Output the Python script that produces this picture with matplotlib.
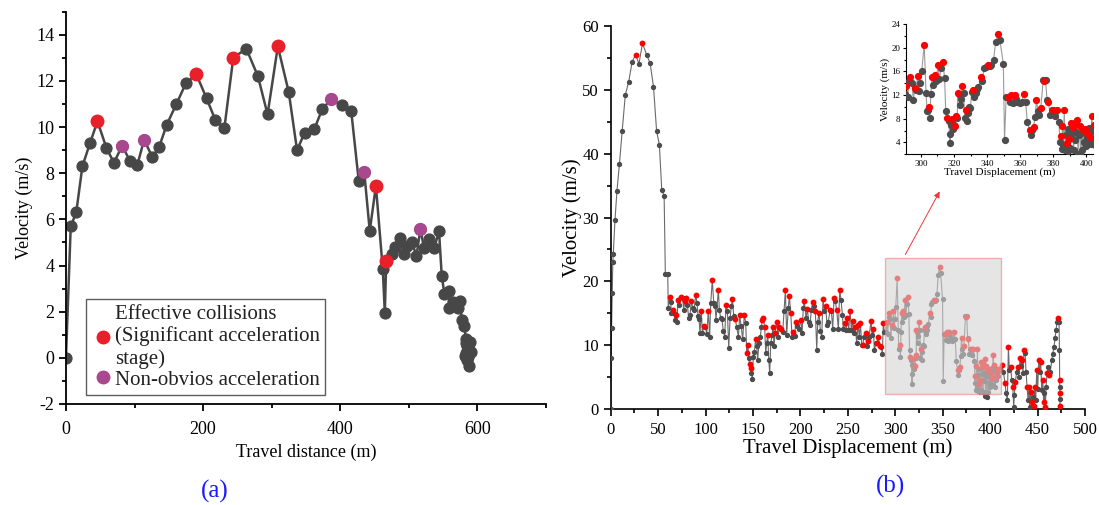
import numpy as np
import matplotlib
matplotlib.use("Agg")
import matplotlib.pyplot as plt
from matplotlib.patches import Rectangle
from matplotlib.lines import Line2D
from matplotlib.ticker import MultipleLocator

plt.rcParams['font.family'] = ['Liberation Serif', 'DejaVu Serif']
plt.rcParams['axes.unicode_minus'] = False

# ---- panel (a): travel distance vs velocity ----
dist_a = [0, 7, 15, 24, 35, 46, 59, 70, 82, 93, 104, 114, 126, 136, 147, 161, 175, 190,
          205, 218, 231, 244, 263, 280, 294, 309, 325, 337, 348, 362, 374, 387, 402, 416,
          427, 435, 443, 452, 462, 465, 467, 475, 480, 487, 493, 497, 505, 511, 517, 522,
          530, 537, 544, 548, 552, 558, 559, 565, 572, 575, 577, 581,
          583, 585, 584, 587, 586, 582, 588, 585, 589, 587, 588, 586, 590, 584]
vel_a = [0, 5.7, 6.3, 8.3, 9.3, 10.25, 9.1, 8.45, 9.2, 8.55, 8.35, 9.45, 8.7, 9.15, 10.1, 11.0, 11.9, 12.3,
         11.25, 10.3, 9.95, 13.0, 13.4, 12.2, 10.55, 13.5, 11.5, 9.0, 9.75, 9.9, 10.8, 11.2, 10.95, 10.7,
         7.65, 8.05, 5.5, 7.45, 3.85, 1.95, 4.2, 4.5, 4.8, 5.2, 4.5, 4.85, 5.0, 4.4, 5.6, 4.75,
         5.15, 4.75, 5.5, 3.55, 2.75, 2.9, 2.15, 2.4, 2.15, 2.45, 1.65, 1.4,
         0.8, 0.5, 0.2, 0.6, 0.3, 0.1, 0.35, -0.1, 0.7, 0.05, -0.35, 0.45, 0.25, 0.65]
effective_at = [46, 190, 244, 309, 452, 467]
nonobvious_at = [82, 114, 387, 435, 517]

# ---- panel (b): travel displacement vs velocity ----
dist_b = [
    0, 0.3, 0.9, 1.5, 2.2, 2.7, 4.5, 6.6, 9.2, 12.1, 15.4, 19.0, 22.6, 26.2, 29.8, 33.5, 37.8,
    41.5, 45.1, 48.4, 51.3, 53.8, 56.3, 57.6, 60.1,
    60.7, 62.2, 63.2, 63.9, 65.7, 66.7, 67.8, 68.8, 69.9, 70.9, 72.3, 74.4, 75.9, 76.9, 78.0, 79.4,
    80.8, 82.2, 83.6, 85.0, 86.4, 87.8, 89.6, 91.0, 92.0, 93.1, 94.1, 95.5, 96.6, 98.4, 99.8,
    101.2, 102.9, 104.3, 105.4, 107.1, 108.6, 110.0, 111.0, 113.5, 114.5, 116.0, 117.3, 118.7,
    120.2, 121.5, 123.0, 124.4, 125.8, 127.2, 128.3, 129.7, 131.4, 132.8, 134.6, 136.0, 137.4,
    139.1, 140.9, 142.3, 143.4, 144.7, 145.4, 146.5, 147.6, 148.2, 149.3, 150.3, 151.4, 152.8,
    153.9, 154.9, 156.3, 157.7, 158.8, 159.8, 160.9, 162.3, 163.4, 164.4, 165.5, 166.6, 167.6,
    168.7, 170.1, 171.1, 172.2, 173.2, 175.0, 176.4, 177.7, 179.9, 181.3, 182.7, 184.1, 185.5,
    187.2, 188.3, 189.8, 191.1, 192.5, 194.0, 195.0, 196.7, 198.5, 200.3, 201.7, 203.0, 204.1,
    205.9, 207.3, 208.7, 210.1, 211.5, 212.9, 214.3, 215.7, 217.2, 218.2, 219.6, 221.0, 222.4,
    223.8, 225.2, 226.6, 228.0, 229.4, 231.2, 232.6, 234.0, 235.4, 236.8, 238.2, 240.0, 241.4,
    242.8, 244.2, 245.2, 247.0, 248.4, 249.4, 250.9, 252.3, 253.7, 255.1, 256.5, 257.9, 259.3,
    260.7, 262.1, 263.2, 264.6, 265.7, 267.0, 268.8, 269.9, 270.9, 272.3, 274.4, 275.5, 276.9,
    277.9, 279.7, 280.7, 282.1, 283.5, 285.3, 286.3, 287.4, 288.4,
    290.1, 291.2, 292.0, 292.9, 293.7, 294.6, 295.4, 296.3, 297.1, 298.0, 298.8, 299.7, 300.5,
    302.0, 303.1, 303.7, 304.3, 305.0, 305.4, 306.0, 306.7, 307.5, 308.4, 309.2, 310.3, 311.1,
    312.2, 313.3, 314.3, 315.0, 316.0, 316.7, 317.3, 317.6, 317.9, 318.8, 319.4, 320.1, 320.7,
    321.3, 322.0, 322.2, 322.8, 323.5, 324.1, 325.0, 325.8, 326.5, 327.3, 327.9, 328.6, 329.2,
    329.9, 330.7, 331.6, 332.2, 333.0, 333.9, 334.7, 336.2, 337.1, 338.1, 339.2, 340.5, 341.5,
    342.6, 343.9, 345.2, 346.6, 347.7, 349.8, 350.5, 351.5, 352.8, 353.7, 354.5, 355.4, 356.6,
    357.5, 358.3, 359.6, 360.9, 362.2, 363.2, 364.3, 365.6, 366.4, 367.3, 368.1, 369.0, 369.8,
    370.7, 371.3, 372.4, 373.9, 374.5, 375.3, 376.2, 377.0, 378.1, 379.2, 380.0, 380.9, 382.4,
    383.4, 384.0, 384.5, 385.0, 385.5, 386.0, 386.6, 387.1, 387.6, 388.1, 388.6, 389.1, 389.6,
    390.2, 390.7, 391.2, 391.7, 392.3, 392.8, 393.3, 393.8, 394.3, 394.9, 395.4, 395.9, 396.4,
    397.0, 397.5, 398.0, 398.5, 399.0, 399.6, 400.1, 400.6, 401.1, 401.7, 402.2, 402.7, 403.2,
    403.8, 404.3, 404.8, 405.4, 405.9, 406.4, 407.0, 407.5, 408.0, 408.6, 409.2,
    412.2, 413.9, 415.7, 416.7, 418.1, 419.2, 420.2, 421.7, 422.7, 423.8, 424.8, 425.5, 426.6,
    428.0, 429.1, 430.1, 431.5, 432.5, 433.6, 434.6, 435.7, 436.8, 437.8, 438.9, 439.9, 441.0,
    441.7, 442.8, 443.8, 444.9, 445.9, 447.0, 448.0, 449.1, 450.1, 451.2, 452.2, 453.3, 454.3,
    455.4, 456.4, 457.1, 458.2, 458.9, 460.0, 461.0, 462.4, 463.4, 464.9, 465.9, 467.3, 468.4,
    469.4, 470.5, 471.9, 472.6, 473.0, 473.2, 473.3, 473.4, 473.5, 473.6]
vel_b = [
    0, 8.0, 12.7, 18.2, 23.0, 24.3, 29.6, 34.2, 38.4, 43.6, 49.2, 51.3, 54.4, 55.5, 54.1, 57.3, 55.5,
    54.2, 50.5, 43.5, 41.4, 34.3, 33.4, 21.1, 21.1,
    15.8, 17.6, 16.75, 15.1, 15.5, 15.0, 14.0, 14.75, 13.7, 17.1, 16.3, 17.6, 17.4, 15.5, 16.95, 17.4,
    16.3, 14.2, 14.75, 16.95, 15.8, 15.5, 17.85, 16.6, 14.6, 14.1, 11.9, 15.4, 11.9, 13.0, 12.8,
    11.8, 15.3, 11.25, 16.6, 20.25, 16.6, 16.2, 14.0, 18.7, 15.5, 14.2, 14.1, 12.15,
    11.35, 16.3, 15.3, 9.5, 14.2, 16.1, 17.2, 14.5, 14.1, 12.8, 11.35, 14.7, 13.0,
    11.0, 14.8, 13.45, 8.75, 10.0, 7.96, 7.06, 6.39, 5.7, 4.66, 8.2, 9.0, 11.0,
    9.8, 7.7, 10.3, 11.35, 12.8, 13.9, 14.2, 12.8, 8.75, 10.3, 11.6, 7.7, 5.6,
    10.3, 11.6, 12.8, 9.8, 11.85, 13.7, 11.35, 12.8, 12.6, 12.0, 15.3, 18.6, 11.6,
    15.8, 17.7, 15.0, 11.35, 12.0, 11.5, 13.65, 13.0, 12.6, 14.0, 11.85, 15.8, 16.85,
    14.2, 15.65, 13.7, 13.2, 15.5, 16.8, 16.1, 15.3, 9.26, 13.7, 15.1, 12.2, 11.35,
    17.2, 15.3, 16.1, 13.2, 13.7, 15.5, 15.3, 12.5, 17.4, 16.85, 15.5, 12.6, 18.6,
    17.1, 14.75, 12.5, 13.5, 12.45, 14.2, 12.45, 15.4, 12.35, 13.8, 11.9, 12.9, 10.3,
    13.2, 11.35, 13.5, 10.0, 10.0, 11.35, 11.85, 9.8, 10.6, 11.35, 13.8, 11.6, 12.6,
    9.3, 10.3, 10.3, 11.25, 9.9, 9.7, 8.6, 13.5, 12.0,
    12.1, 13.6, 11.7, 14.4, 15.0, 14.1, 11.15, 13.2, 12.85, 15.3, 12.7, 14.1, 16.05,
    20.5, 12.4, 9.35, 9.45, 10.0, 8.2, 12.1, 15.1, 13.7, 15.4, 14.35, 17.05, 14.75,
    16.5, 17.6, 14.9, 9.3, 8.2, 7.7, 5.5, 3.9, 6.9, 7.9, 6.2, 6.9, 6.8,
    8.45, 8.05, 12.3, 12.1, 10.3, 11.4, 13.6, 12.3, 8.05, 9.45, 7.65, 8.9, 10.0,
    9.85, 12.45, 12.85, 11.7, 12.3, 13.0, 13.3, 15.0, 14.4, 16.5, 16.8, 17.05, 16.9,
    17.0, 18.0, 21.0, 22.25, 21.3, 17.25, 4.4, 11.7, 11.7, 10.8, 12.0, 10.7, 12.0,
    11.4, 10.9, 10.7, 10.8, 12.1, 10.9, 7.5, 6.1, 5.25, 6.1, 6.65, 8.35, 11.15,
    9.35, 8.6, 9.85, 14.5, 14.45, 14.5, 11.15, 10.9, 8.6, 9.45, 9.45, 8.45, 9.45,
    7.5, 4.0, 5.1, 2.9, 6.7, 3.5, 9.4, 2.8, 5.3, 3.9, 6.2, 2.6, 4.6,
    3.0, 7.3, 5.5, 6.6, 2.7, 7.2, 4.4, 5.7, 7.8, 2.0, 5.2, 6.7, 1.9,
    5.6, 2.7, 6.1, 4.0, 6.3, 3.4, 5.0, 5.6, 3.9, 6.4, 4.9, 3.8, 8.4,
    5.9, 6.9, 4.6, 3.5, 5.0, 4.6, 6.2, 5.3, 6.0, 5.1, 6.2,
    6.9, 5.86, 4.03, 2.46, 1.41, 9.68, 6.12, 6.54, 4.55, 3.5, 0.36, 2.2, 4.3,
    5.86, 6.64, 5.07, 7.95, 6.8, 7.7, 5.7, 9.26, 8.74, 5.86, 3.5, 1.41, 3.5,
    0.36, 2.7, 1.1, 1.9, 0.4, 3.5, 1.4, 6.1, 3.2, 7.7, 5.86, 7.4, 3.0,
    4.55, 1.1, 2.46, 0.36, 3.5, 5.6, 6.64, 5.3, 5.86, 7.7, 8.6, 9.75, 11.05,
    12.35, 13.65, 14.3, 13.7, 9.3, 4.5, 3.5, 2.5, 1.5, 0.4]
# displacements of the points marked red (acceleration peaks)
red_at_b = [
    26.2, 33.5, 62.2, 65.7, 68.8, 70.9, 74.4, 78.0, 79.4, 85.0, 89.6, 95.5, 98.4, 102.9, 107.1,
    113.5, 121.5, 128.3, 131.4, 136.0, 140.9, 143.4, 144.7, 146.5, 147.6, 152.8, 159.8, 160.9,
    162.3, 165.5, 171.1, 173.2, 175.0, 177.7, 179.9, 184.1, 188.3, 189.8, 192.5, 195.0, 200.3,
    204.1, 207.3, 212.9, 215.7, 219.6, 223.8, 226.6, 231.2, 235.4, 238.2, 241.4, 247.0, 249.4,
    252.3, 255.1, 257.9, 260.7, 263.2, 265.7, 268.8, 270.9, 274.4, 276.9, 280.7, 282.1, 283.5,
    287.4, 291.2, 293.7, 296.3, 298.0, 302.0, 305.0, 306.7, 308.4, 310.3, 313.3, 316.0, 318.8,
    320.7, 321.3, 322.2, 325.0, 327.3, 331.6, 336.2, 340.5, 346.6, 352.8, 354.5, 356.6, 362.2,
    365.6, 368.1, 369.8, 372.4, 374.5, 377.0, 380.0, 382.4, 384.5, 385.5, 386.6, 388.1, 389.6,
    390.7, 391.7, 392.8, 394.3, 395.9, 398.0, 399.0, 400.6, 402.2, 403.2, 404.3, 405.9, 407.0,
    408.0, 409.2, 412.2, 415.7, 419.2, 421.7, 423.8, 426.6, 429.1, 431.5, 433.6, 435.7, 438.9,
    441.0, 442.8, 443.8, 445.9, 447.0, 449.1, 451.2, 453.3, 455.4, 456.4, 458.2, 460.0, 462.4,
    471.9, 473.2, 473.4, 473.6]

dist_a = np.array(dist_a, dtype=float)
vel_a = np.array(vel_a, dtype=float)
dist_b = np.array(dist_b, dtype=float)
vel_b = np.array(vel_b, dtype=float)
red_b = np.isin(dist_b, red_at_b)

RED = '#e8202a'
PURPLE = '#a8488f'
DARK = '#474747'

fig = plt.figure(figsize=(10.99, 5.05), dpi=100)


def style_axes(ax, lw=1.2, size=12):
    for s in ('top', 'right'):
        ax.spines[s].set_visible(False)
    for s in ('left', 'bottom'):
        ax.spines[s].set_linewidth(lw)
    ax.tick_params(which='major', direction='out', length=5, width=lw, labelsize=size)
    ax.tick_params(which='minor', direction='out', length=3, width=lw)


# ---- (a) ----
ax1 = fig.add_axes([0.060, 0.200, 0.4368, 0.7768])
ax1.plot(dist_a, vel_a, '-o', color=DARK, lw=1.8, ms=7.8, zorder=2)
m_eff = np.isin(dist_a, effective_at)
m_non = np.isin(dist_a, nonobvious_at)
ax1.plot(dist_a[m_eff], vel_a[m_eff], 'o', color=RED, ms=9, ls='', zorder=3)
ax1.plot(dist_a[m_non], vel_a[m_non], 'o', color=PURPLE, ms=8.5, ls='', zorder=3)
ax1.set_xlim(0, 700)
ax1.set_ylim(-2, 15)
ax1.xaxis.set_major_locator(MultipleLocator(200))
ax1.xaxis.set_minor_locator(MultipleLocator(100))
ax1.yaxis.set_minor_locator(MultipleLocator(1))
ax1.set_yticks([-2, 0, 2, 4, 6, 8, 10, 12, 14])
style_axes(ax1, lw=1.3, size=13)
ax1.tick_params(axis='x', which='major', pad=7)
ax1.set_xlabel('Travel distance (m)', fontsize=13, labelpad=4)
ax1.set_ylabel('Velocity (m/s)', fontsize=13, labelpad=2)

handles = [Line2D([], [], marker='o', ls='', color=RED, ms=9),
           Line2D([], [], marker='o', ls='', color=PURPLE, ms=9)]
leg = ax1.legend(handles, ['Effective collisions\n(Significant acceleration\nstage)',
                           'Non-obvios acceleration'],
                 loc='lower left', bbox_to_anchor=(0.042, 0.023), borderaxespad=0,
                 fontsize=15, frameon=True, fancybox=False, handletextpad=0.05,
                 handlelength=1.1, borderpad=0.25, labelspacing=0.05)
leg.get_frame().set_edgecolor('#333333')
leg.get_frame().set_linewidth(1.0)
for t in leg.get_texts():
    t.set_color('#222222')

# ---- (b) ----
ax2 = fig.add_axes([0.5557, 0.1901, 0.4316, 0.7584])
ax2.plot(dist_b, vel_b, '-', color='#6a6a6a', lw=0.8, zorder=2)
ax2.plot(dist_b[~red_b], vel_b[~red_b], 'o', color='#4d4d4d', ms=2.8, ls='', zorder=3)
ax2.plot(dist_b[red_b], vel_b[red_b], 'o', color='#ff0000', ms=3.2, ls='', zorder=3)
ax2.set_xlim(0, 500)
ax2.set_ylim(0, 60)
ax2.xaxis.set_major_locator(MultipleLocator(50))
ax2.xaxis.set_minor_locator(MultipleLocator(25))
ax2.yaxis.set_major_locator(MultipleLocator(10))
ax2.yaxis.set_minor_locator(MultipleLocator(5))
style_axes(ax2, lw=1.2, size=12)
ax2.tick_params(axis='x', which='major', pad=4.5)
ax2.set_xlabel('Travel Displacement (m)', fontsize=15, labelpad=0)
ax2.set_ylabel('Velocity (m/s)', fontsize=15, labelpad=0)

box = Rectangle((289, 2.3), 122, 21.4, facecolor='#d4d4d4', alpha=0.6,
                edgecolor='#ee8080', lw=1.0, zorder=5)
ax2.add_patch(box)
ax2.annotate('', xy=(941, 505 - 189), xytext=(904, 505 - 257),
             xycoords='figure pixels', textcoords='figure pixels',
             arrowprops=dict(arrowstyle='-|>', color='#e83a3a', lw=0.7, mutation_scale=9))

# ---- inset ----
ax3 = fig.add_axes([0.8244, 0.6945, 0.1702, 0.258])
ax3.plot(dist_b, vel_b, '-', color='#9a9a9a', lw=0.8, zorder=2)
ax3.plot(dist_b[~red_b], vel_b[~red_b], 'o', color='#4d4d4d', ms=4.2, ls='', zorder=3)
ax3.plot(dist_b[red_b], vel_b[red_b], 'o', color='#ff0000', ms=4.2, ls='', zorder=3)
ax3.set_xlim(291, 404)
ax3.set_ylim(2, 24)
ax3.xaxis.set_major_locator(MultipleLocator(20))
ax3.xaxis.set_minor_locator(MultipleLocator(10))
ax3.set_yticks([4, 8, 12, 16, 20, 24])
ax3.yaxis.set_minor_locator(MultipleLocator(2))
style_axes(ax3, lw=0.8, size=6.5)
ax3.tick_params(which='major', length=2.5, pad=1.5)
ax3.tick_params(which='minor', length=1.5)
ax3.set_xlabel('Travel Displacement (m)', fontsize=8, labelpad=0)
ax3.set_ylabel('Velocity (m/s)', fontsize=8, labelpad=1)

fig.text(0.1956, 0.026, '(a)', color='#1a1aff', fontsize=18, ha='center', va='center')
fig.text(0.810, 0.036, '(b)', color='#1a1aff', fontsize=18, ha='center', va='center')

fig.savefig('out.png', dpi=100)
